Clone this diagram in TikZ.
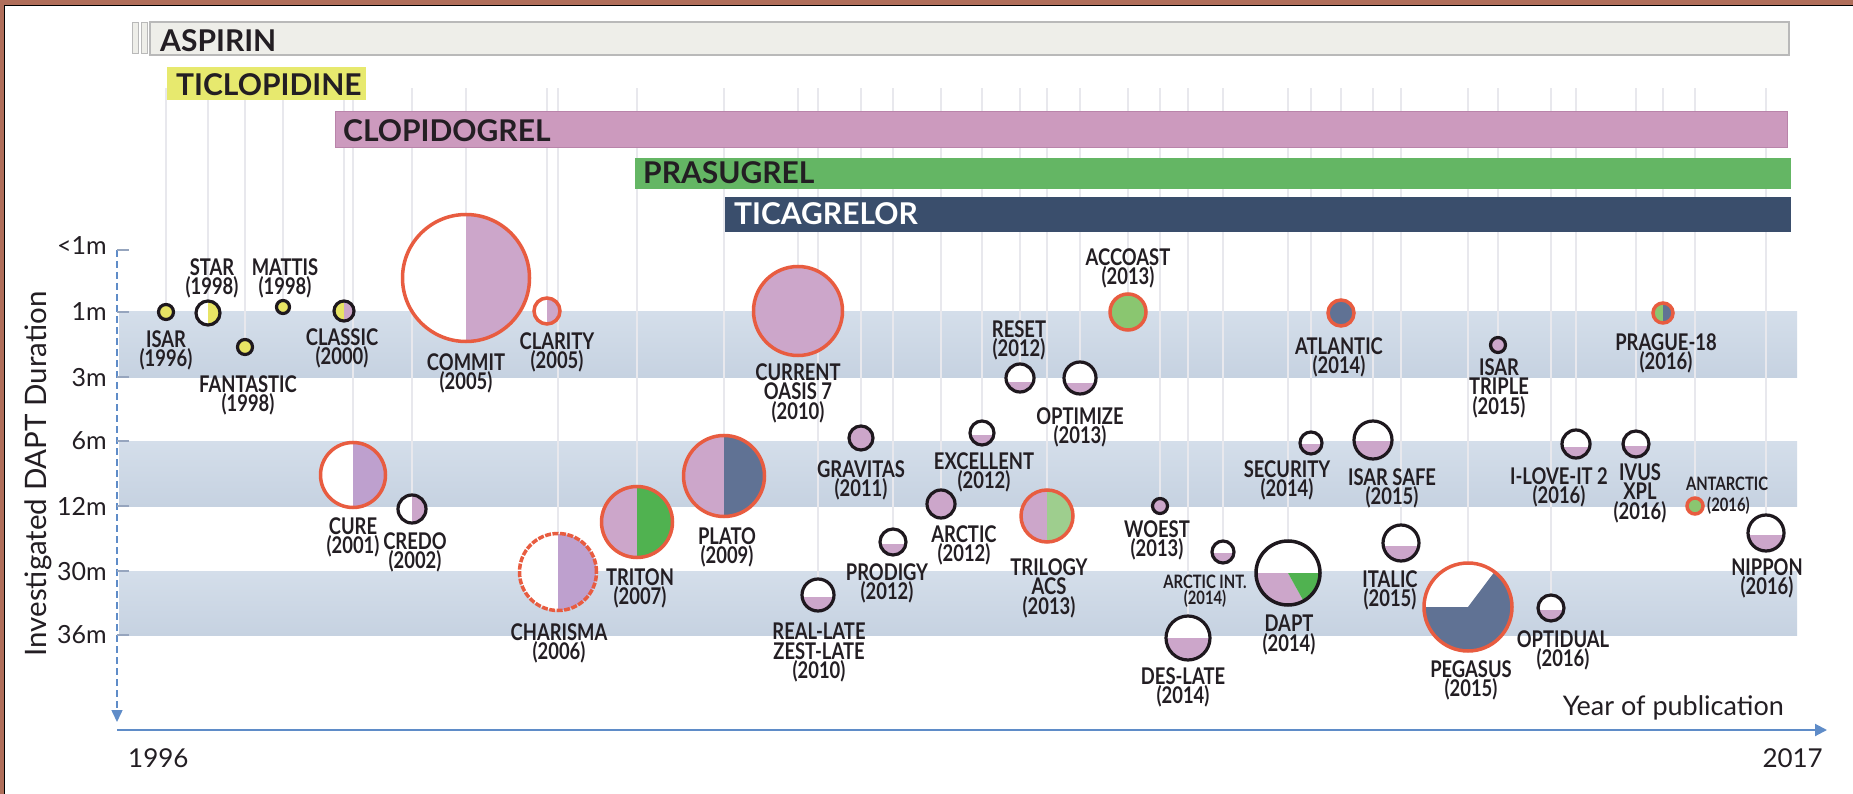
\documentclass[tikz,border=0pt]{standalone}
\usepackage{fontspec}
\setmainfont{Lato}
\newfontfamily\lblfont[FakeStretch=0.8]{Lato}
\usetikzlibrary{arrows.meta}

\definecolor{framebrown}{RGB}{176,110,90}
\definecolor{aspgray}{RGB}{238,238,233}
\definecolor{ticyellow}{RGB}{231,233,110}
\definecolor{clopink}{RGB}{204,154,190}
\definecolor{clodark}{RGB}{185,132,170}
\definecolor{prasgreen}{RGB}{100,182,100}
\definecolor{ticablue}{RGB}{58,78,108}
\definecolor{bandtop}{RGB}{212,222,234}
\definecolor{bandmid}{RGB}{228,234,241}
\definecolor{bandbot}{RGB}{198,210,225}
\definecolor{axblue}{RGB}{95,140,200}
\definecolor{tickgray}{RGB}{150,165,190}
\definecolor{dropgray}{RGB}{232,232,237}
\definecolor{bubdark}{RGB}{30,24,30}
\definecolor{ringred}{RGB}{232,92,64}
\definecolor{ylw}{RGB}{232,228,100}
\definecolor{bubpink}{RGB}{204,166,202}
\definecolor{lilac}{RGB}{190,160,206}
\definecolor{bluegray}{RGB}{96,114,148}
\definecolor{trigreen}{RGB}{80,178,80}
\definecolor{ltgreen}{RGB}{158,206,142}
\definecolor{accgreen}{RGB}{138,198,112}
\definecolor{lbltext}{RGB}{35,30,35}

\pgfdeclarelayer{bg}
\pgfdeclarelayer{drops}
\pgfsetlayers{bg,drops,main}

\tikzset{
  bub/.style={circle, inner sep=0pt, minimum size=#1, line width=3.2pt, draw=bubdark, fill=white},
  ring/.style={draw=ringred, line width=3.5pt},
  rhalf/.style={path picture={\fill[#1] (path picture bounding box.south) rectangle (path picture bounding box.north east);}},
  lowfill/.style={path picture={\fill[bubpink] (path picture bounding box.south west) rectangle ([yshift=#1]path picture bounding box.south east);}},
  lbl/.style={font=\lblfont\bfseries\fontsize{23}{19.5}\selectfont, align=center, inner sep=0pt, text=lbltext, anchor=north},
  smalllbl/.style={lbl, font=\lblfont\bfseries\fontsize{18.5}{16}\selectfont},
  barlbl/.style={font=\bfseries\fontsize{30}{30}\selectfont, inner sep=0pt, anchor=base west, text=lbltext},
  axlbl/.style={font=\fontsize{26}{28}\selectfont, inner sep=0pt, text=lbltext},
  drop/.style={draw=dropgray, line width=1.5pt},
  tick/.style={draw=tickgray, line width=1.5pt}
}

\begin{document}
\begin{tikzpicture}[x=1pt,y=-1pt]
\useasboundingbox (0,0) rectangle (1853,794);

\begin{pgfonlayer}{bg}
\fill[framebrown] (0,0) rectangle (1853,794);
\fill[white] (4,6) rectangle (1853,794);
\draw[black, line width=1pt] (4,794) -- (4,6) -- (1853,6);
\foreach \ya/\yb in {312/377, 441/506, 571/635}
{
    \shade[top color=bandtop, middle color=bandmid, bottom color=bandbot] (119,\ya) rectangle (1797,\yb);
}
\end{pgfonlayer}

% drug bars
\draw[gray!55, fill=aspgray, line width=1.2pt] (150,22) rectangle (1789,55);
\foreach \xa in {132,141}
{
    \draw[gray!55, fill=aspgray, line width=1pt] (\xa,23) rectangle (\xa+6,54);
}
\fill[ticyellow] (167,67) rectangle (366,100);
\draw[clodark, fill=clopink, line width=1pt] (335,112) rectangle (1787,148);
\fill[prasgreen] (635,158) rectangle (1791,189);
\fill[ticablue] (725,197) rectangle (1791,232);
\node (aspirin) at (160,52)[barlbl]{ASPIRIN};
\node (ticlo) at (176,96)[barlbl]{TICLOPIDINE};
\node (clopi) at (343,142)[barlbl]{CLOPIDOGREL};
\node (prasu) at (643,184)[barlbl]{PRASUGREL};
\node (ticag) at (734,225)[barlbl, text=white]{TICAGRELOR};

% axes
\coordinate (droptop) at (0,88);
\coordinate (ytop) at (117,250);
\coordinate (ybot) at (117,722);
\coordinate (orig) at (117,730);
\coordinate (xend) at (1827,730);
\draw[axblue, line width=1.5pt, dash pattern=on 7pt off 4pt, -{Triangle[width=11pt,length=12pt]}] (ytop) -- (ybot);
\draw[axblue, line width=2pt, -{Triangle[width=12pt,length=12pt]}] (orig) -- (xend);
\foreach \y/\ly/\ytext in {250/246/{<1m}, 312/312/1m, 377/378/3m, 441/441/6m, 506/506/12m, 571/572/30m, 635/635/36m}
{
    \draw[tick] (117,\y) -- (129,\y);
    \node (tk\y) at (107,\ly)[axlbl, anchor=east, font=\fontsize{25}{27}\selectfont]{\ytext};
}
\node (ytitle) at (38,474)[axlbl, rotate=90, font=\fontsize{29.5}{30}\selectfont]{Investigated DAPT Duration};
\node (y1996) at (128,758)[axlbl, anchor=west]{1996};
\node (y2017) at (1823,758)[axlbl, anchor=east]{2017};
\node (xtitle) at (1784,715)[axlbl, anchor=base east, font=\fontsize{27}{28}\selectfont]{Year of publication};

% trials
\node (isar) at (166,312)[bub=15pt, fill=ylw]{};
\node (star) at (208,313)[bub=24pt, rhalf=ylw]{};
\node (mattis) at (283,307)[bub=13pt, fill=ylw]{};
\node (fantastic) at (245,347)[bub=15pt, fill=ylw]{};
\node (classic) at (344,311)[bub=20pt, fill=ylw, rhalf=bubpink]{};
\node (commit) at (466,278)[bub=127pt, ring, rhalf=bubpink]{};
\node (clarity) at (547,311)[bub=26pt, ring, rhalf=bubpink]{};
\node (cure) at (353,475)[bub=65pt, ring, rhalf=lilac]{};
\node (credo) at (412,509)[bub=28pt, rhalf=bubpink]{};
\node (charisma) at (558,572)[bub=77pt, ring, dash pattern=on 6pt off 1.5pt, rhalf=lilac]{};
\node (triton) at (637,522)[bub=71pt, ring, fill=bubpink, rhalf=trigreen]{};
\node (plato) at (724,476)[bub=81pt, ring, fill=bubpink, rhalf=bluegray]{};
\node (current) at (798,311)[bub=89pt, ring, fill=bubpink]{};
\node (reallate) at (818,595)[bub=32pt, lowfill=14pt]{};
\node (gravitas) at (861,438)[bub=24pt, fill=bubpink]{};
\node (prodigy) at (893,542)[bub=26pt, lowfill=11pt]{};
\node (arctic) at (941,504)[bub=28pt, fill=bubpink]{};
\node (excellent) at (982,433)[bub=24pt, lowfill=10pt]{};
\node (reset) at (1020,378)[bub=28pt, lowfill=10pt]{};
\node (trilogy) at (1047,516)[bub=52pt, ring, fill=bubpink, rhalf=ltgreen]{};
\node (optimize) at (1080,378)[bub=32pt, lowfill=11pt]{};
\node (accoast) at (1128,312)[bub=36pt, ring, fill=accgreen]{};
\node (woest) at (1160,506)[bub=15pt, fill=bubpink]{};
\node (deslate) at (1188,638)[bub=44pt, lowfill=22pt]{};
\node (arcticint) at (1223,552)[bub=22pt, lowfill=10pt]{};
\node (dapt) at (1288,573)[bub=64pt, line width=3.5pt, path picture={
    \fill[bubpink] (path picture bounding box.center) -- ++(180:40pt) arc[start angle=180, end angle=299, radius=40pt] -- cycle;
    \fill[trigreen] (path picture bounding box.center) -- ++(299:40pt) arc[start angle=299, end angle=360, radius=40pt] -- cycle;}]{};
\node (security) at (1311,443)[bub=22pt, lowfill=10pt]{};
\node (atlantic) at (1341,313)[bub=26pt, ring, fill=bluegray]{};
\node (isarsafe) at (1373,440)[bub=38pt, lowfill=18pt]{};
\node (italic) at (1401,543)[bub=36pt, lowfill=15pt]{};
\node (pegasus) at (1468,607)[bub=88pt, ring, path picture={
    \fill[bluegray] (path picture bounding box.center) -- ++(53:60pt) arc[start angle=53, end angle=-180, radius=60pt] -- cycle;}]{};
\node (isartriple) at (1498,345)[bub=15pt, fill=bubpink]{};
\node (optidual) at (1551,608)[bub=26pt, lowfill=11pt]{};
\node (iloveit) at (1576,444)[bub=28pt, lowfill=11pt]{};
\node (ivus) at (1636,444)[bub=26pt, lowfill=11pt]{};
\node (prague) at (1663,313)[bub=20pt, ring, fill=accgreen, rhalf=bluegray]{};
\node (antarctic) at (1695,506)[bub=16pt, ring, fill=accgreen]{};
\node (nippon) at (1766,533)[bub=36pt, lowfill=16pt]{};

% trial labels
\node (isar-l) at (166,330)[lbl]{ISAR\\(1996)};
\node (star-l) at (212,258)[lbl]{STAR\\(1998)};
\node (mattis-l) at (285,258)[lbl]{MATTIS\\(1998)};
\node (fantastic-l) at (248,375)[lbl]{FANTASTIC\\(1998)};
\node (classic-l) at (342,328)[lbl]{CLASSIC\\(2000)};
\node (commit-l) at (466,353)[lbl]{COMMIT\\(2005)};
\node (clarity-l) at (557,332)[lbl]{CLARITY\\(2005)};
\node (cure-l) at (353,517)[lbl]{CURE\\(2001)};
\node (credo-l) at (415,532)[lbl]{CREDO\\(2002)};
\node (charisma-l) at (559,623)[lbl]{CHARISMA\\(2006)};
\node (triton-l) at (640,568)[lbl]{TRITON\\(2007)};
\node (plato-l) at (727,527)[lbl]{PLATO\\(2009)};
\node (current-l) at (798,363)[lbl]{CURRENT\\OASIS 7\\(2010)};
\node (reallate-l) at (819,623)[lbl]{REAL-LATE\\ZEST-LATE\\(2010)};
\node (gravitas-l) at (861,460)[lbl]{GRAVITAS\\(2011)};
\node (prodigy-l) at (887,563)[lbl]{PRODIGY\\(2012)};
\node (arctic-l) at (964,525)[lbl]{ARCTIC\\(2012)};
\node (excellent-l) at (984,452)[lbl]{EXCELLENT\\(2012)};
\node (reset-l) at (1019,320)[lbl]{RESET\\(2012)};
\node (trilogy-l) at (1049,558)[lbl]{TRILOGY\\ACS\\(2013)};
\node (optimize-l) at (1080,407)[lbl]{OPTIMIZE\\(2013)};
\node (accoast-l) at (1128,248)[lbl]{ACCOAST\\(2013)};
\node (woest-l) at (1157,520)[lbl]{WOEST\\(2013)};
\node (deslate-l) at (1183,667)[lbl]{DES-LATE\\(2014)};
\node (arcticint-l) at (1205,575)[smalllbl]{ARCTIC INT.\\(2014)};
\node (dapt-l) at (1289,615)[lbl]{DAPT\\(2014)};
\node (security-l) at (1287,460)[lbl]{SECURITY\\(2014)};
\node (atlantic-l) at (1339,337)[lbl]{ATLANTIC\\(2014)};
\node (isarsafe-l) at (1392,468)[lbl]{ISAR SAFE\\(2015)};
\node (italic-l) at (1390,570)[lbl]{ITALIC\\(2015)};
\node (pegasus-l) at (1471,660)[lbl]{PEGASUS\\(2015)};
\node (isartriple-l) at (1499,358)[lbl]{ISAR\\TRIPLE\\(2015)};
\node (optidual-l) at (1563,630)[lbl]{OPTIDUAL\\(2016)};
\node (iloveit-l) at (1559,467)[lbl]{I-LOVE-IT 2\\(2016)};
\node (ivus-l) at (1640,463)[lbl]{IVUS\\XPL\\(2016)};
\node (prague-l) at (1666,333)[lbl]{PRAGUE-18\\(2016)};
\node (antarctic-l) at (1727,477)[smalllbl]{ANTARCTIC};
\node (antarctic-y) at (1707,506)[smalllbl, anchor=west]{(2016)};
\node (nippon-l) at (1767,558)[lbl]{NIPPON\\(2016)};

\begin{pgfonlayer}{drops}
\foreach \n in {isar,star,mattis,fantastic,classic,commit,clarity,cure,credo,charisma,triton,plato,current,reallate,gravitas,prodigy,arctic,excellent,reset,trilogy,optimize,accoast,woest,deslate,arcticint,dapt,security,atlantic,isarsafe,italic,pegasus,isartriple,optidual,iloveit,ivus,prague,antarctic,nippon}
{
    \draw[drop] (\n.center) -- (\n.center |- droptop);
}
\end{pgfonlayer}
\end{tikzpicture}
\end{document}
